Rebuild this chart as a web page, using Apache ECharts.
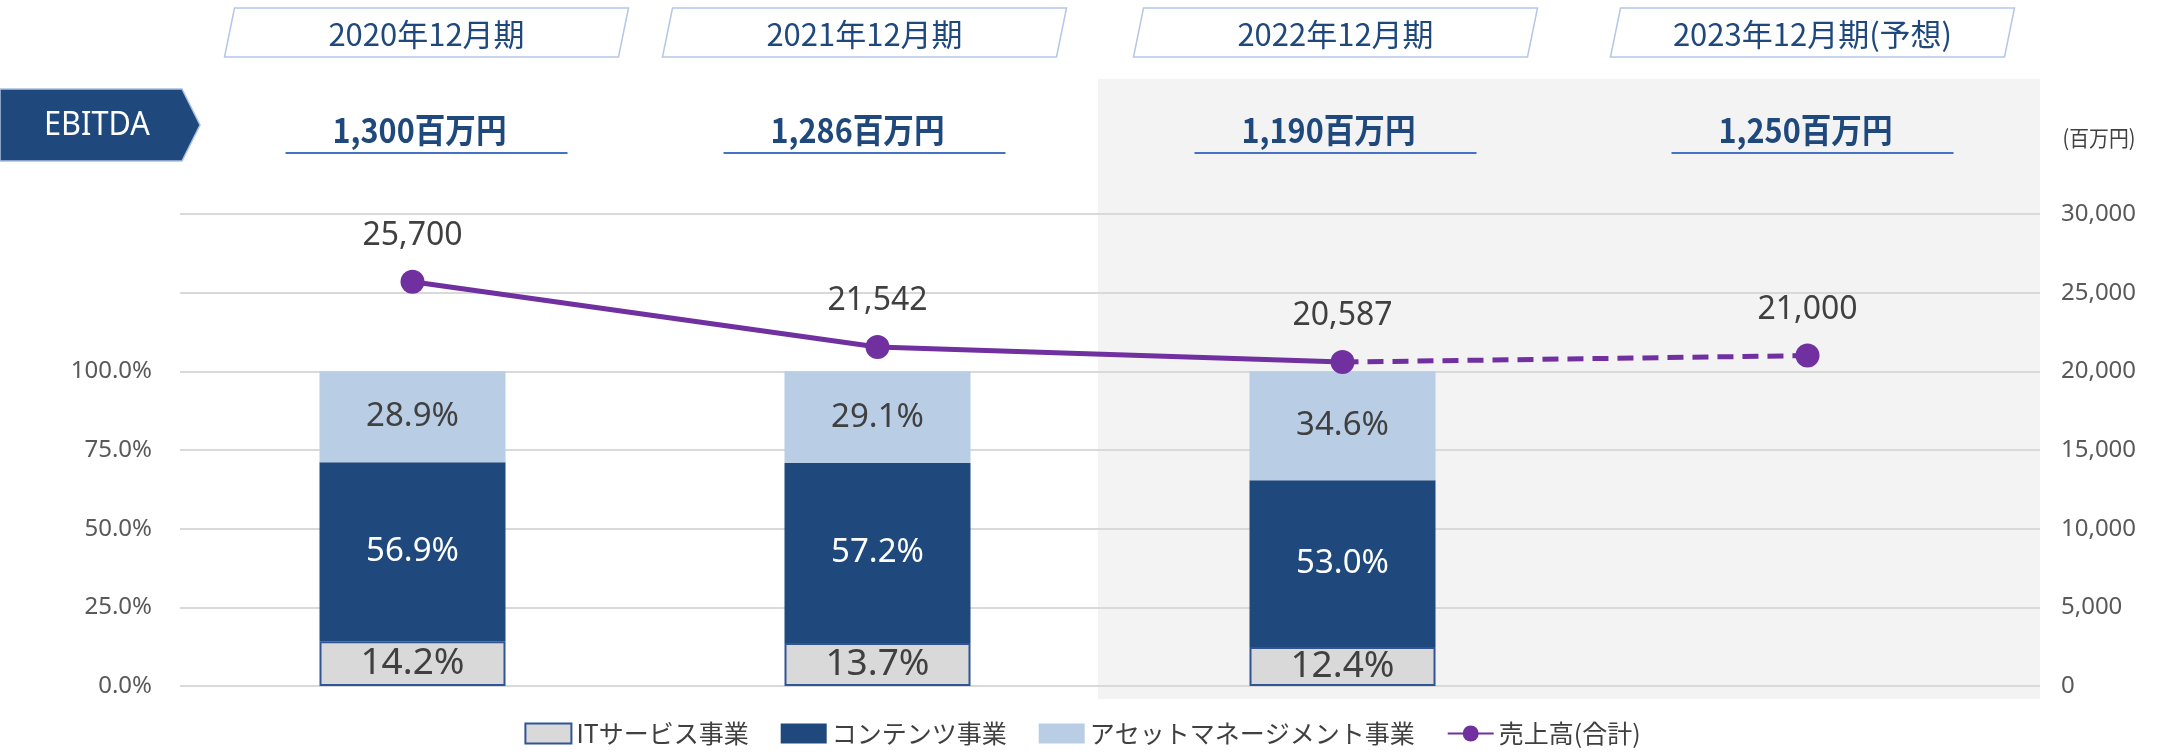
<!DOCTYPE html>
<html>
<head>
<meta charset="utf-8">
<script src="https://cdn.jsdelivr.net/npm/echarts@6/dist/echarts.min.js"></script>
<style>
  html, body { margin: 0; padding: 0; background: #fff; }
  #chart { width: 2165px; height: 754px; }
</style>
</head>
<body>
<div id="chart"></div>
<script>
// 期間とEBITDA
const periods = ['2020年12月期', '2021年12月期', '2022年12月期', '2023年12月期(予想)'];
const ebitdaLabels = ['1,300百万円', '1,286百万円', '1,190百万円', '1,250百万円'];

// 事業別構成比(%)
const itShare = [14.2, 13.7, 12.4, null];
const contentsShare = [56.9, 57.2, 53.0, null];
const assetShare = [28.9, 29.1, 34.6, null];

// 売上高(百万円) 実績 / 予想
const salesActual = [25700, 21542, 20587, null];
const salesForecast = [null, null, 20587, 21000];

const NUM_FONT = '"Noto Sans", "Open Sans", sans-serif';
const JP_FONT = '"Noto Sans CJK JP", "Noto Sans", sans-serif';
const NAVY = '#1F497D';

const dash = v => (v == null ? '-' : v);
const pct = p => p.value.toFixed(1) + '%';
const comma = v => Number(v).toLocaleString('en-US');

const chart = echarts.init(document.getElementById('chart'));

const barLabel = (color, size) => ({
  show: true, position: 'inside', color: color,
  fontSize: size, fontFamily: NUM_FONT, formatter: pct
});

const lineLabel = {
  show: true, position: 'top', distance: 18, fontSize: 32,
  color: '#404040', fontFamily: NUM_FONT, formatter: p => comma(p.value)
};

chart.setOption({
  animation: false,
  backgroundColor: '#fff',
  grid: { left: 180, right: 125, top: 214, bottom: 68 },
  legend: {
    bottom: 3, left: 'center',
    itemWidth: 46, itemHeight: 20, itemGap: 32,
    textStyle: { fontSize: 25, color: '#404040', fontFamily: JP_FONT },
    data: [
      { name: 'ITサービス事業', icon: 'rect' },
      { name: 'コンテンツ事業', icon: 'rect' },
      { name: 'アセットマネージメント事業', icon: 'rect' },
      { name: '売上高(合計)' }
    ]
  },
  xAxis: {
    type: 'category', data: periods,
    axisLine: { show: false }, axisTick: { show: false }, axisLabel: { show: false }
  },
  yAxis: [
    {
      type: 'value', min: 0, max: 150, interval: 25,
      axisLine: { show: false }, axisTick: { show: false },
      axisLabel: {
        fontSize: 24, color: '#595959', fontFamily: NUM_FONT, margin: 28,
        formatter: v => (v <= 100 ? v.toFixed(1) + '%' : '')
      },
      splitLine: { lineStyle: { color: '#D9D9D9', width: 2 } }
    },
    {
      type: 'value', min: 0, max: 30000, interval: 5000,
      axisLine: { show: false }, axisTick: { show: false },
      axisLabel: { fontSize: 24, color: '#595959', fontFamily: NUM_FONT, margin: 21, formatter: comma },
      splitLine: { show: false }
    }
  ],
  series: [
    {
      name: 'ITサービス事業', type: 'bar', stack: 'share', barWidth: '40%',
      data: itShare.map(dash),
      itemStyle: { color: '#D9D9D9', borderColor: '#2F5597', borderWidth: 2 },
      label: barLabel('#404040', 37)
    },
    {
      name: 'コンテンツ事業', type: 'bar', stack: 'share',
      data: contentsShare.map(dash),
      itemStyle: { color: NAVY },
      label: barLabel('#ffffff', 33)
    },
    {
      name: 'アセットマネージメント事業', type: 'bar', stack: 'share',
      data: assetShare.map(dash),
      itemStyle: { color: '#B9CDE5' },
      label: barLabel('#404040', 33)
    },
    {
      name: '売上高(合計)', type: 'line', yAxisIndex: 1, z: 5,
      data: salesActual.map(dash),
      symbol: 'circle', symbolSize: 24,
      itemStyle: { color: '#7030A0' },
      lineStyle: { color: '#7030A0', width: 5 },
      label: lineLabel
    },
    {
      name: '売上高(合計)', type: 'line', yAxisIndex: 1, z: 4,
      data: salesForecast.map((v, i) => (v == null ? '-' : i === 2 ? { value: v, symbol: 'none', label: { show: false } } : v)),
      symbol: 'circle', symbolSize: 24,
      itemStyle: { color: '#7030A0' },
      lineStyle: { color: '#7030A0', width: 5, type: [16, 9] },
      label: lineLabel
    }
  ]
});

// 見出し類は軸の位置から組み立てる
const centers = periods.map((p, i) => chart.convertToPixel({ xAxisIndex: 0 }, i));
const half = (centers[1] - centers[0]) / 2;
const headShift = [14, -13, -7, 5];
const plotRight = chart.getWidth() - 125;
const shadeLeft = centers[2] - half - 12;

const gfx = [
  {
    type: 'rect', z: -10, silent: true,
    shape: { x: shadeLeft, y: 79, width: plotRight - shadeLeft, height: 620 },
    style: { fill: '#F3F3F3' }
  },
  {
    type: 'polygon',
    shape: { points: [[0, 89], [182, 89], [200, 125], [182, 161], [0, 161]] },
    style: { fill: NAVY, stroke: '#A9C0DE', lineWidth: 1.5 }
  },
  {
    type: 'text', x: 97, y: 126, scaleX: 0.93,
    style: { text: 'EBITDA', fill: '#fff', font: '33px ' + NUM_FONT, textAlign: 'center', textVerticalAlign: 'middle' }
  },
  {
    type: 'text', x: plotRight + 59, y: 138, scaleX: 0.9,
    style: { text: '(百万円)', fill: '#404040', font: '22px ' + JP_FONT, textAlign: 'center', textVerticalAlign: 'middle' }
  }
];

centers.forEach((c, i) => {
  const cx = c + headShift[i];
  gfx.push({
    type: 'polygon',
    shape: { points: [[cx - 192, 8], [cx + 202, 8], [cx + 192, 57], [cx - 202, 57]] },
    style: { fill: '#fff', stroke: '#B4C7E7', lineWidth: 1.5 }
  });
  gfx.push({
    type: 'text', x: cx, y: 34,
    style: { text: periods[i], fill: NAVY, font: '31px ' + JP_FONT, textAlign: 'center', textVerticalAlign: 'middle' }
  });
  gfx.push({
    type: 'text', x: cx - 7, y: 130, scaleX: 0.9,
    style: { text: ebitdaLabels[i], fill: NAVY, font: 'bold 34px ' + JP_FONT, textAlign: 'center', textVerticalAlign: 'middle' }
  });
  gfx.push({
    type: 'line',
    shape: { x1: cx - 141, y1: 153, x2: cx + 141, y2: 153 },
    style: { stroke: '#4472C4', lineWidth: 2 }
  });
});

chart.setOption({ graphic: gfx });
</script>
</body>
</html>
